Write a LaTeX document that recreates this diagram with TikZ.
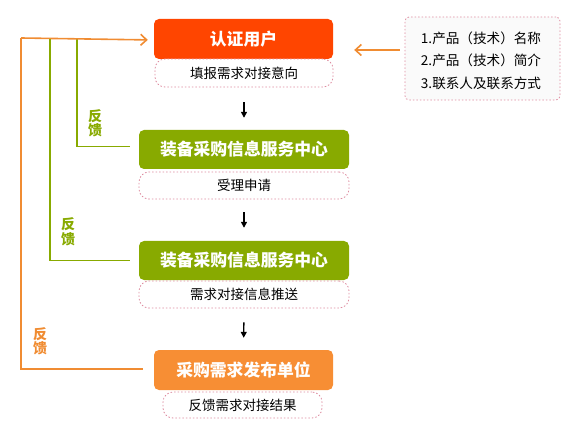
\documentclass[tikz,border=0pt]{standalone}
\usepackage{fontspec}
\setmainfont{Noto Sans CJK SC}
\usepackage{xcolor}
\usetikzlibrary{arrows.meta,calc,positioning}

\definecolor{userred}{RGB}{255,69,0}
\definecolor{centergreen}{RGB}{136,170,0}
\definecolor{puborange}{RGB}{247,142,52}
\definecolor{lineorange}{RGB}{240,140,50}
\definecolor{dashpink}{RGB}{222,140,160}

\begin{document}
\begin{tikzpicture}[x=1pt,y=-1pt,
	mainbox/.style={rounded corners=5pt,text=white,font=\fontsize{16.8}{16.8}\selectfont\bfseries,inner sep=0pt},
	notebox/.style={draw=dashpink,dash pattern=on 1.5pt off 2pt,line width=0.8pt,rounded corners=10pt,fill=white,font=\fontsize{13.5}{13.5}\selectfont,inner sep=0pt},
	flow/.style={line width=1.4pt,-{Triangle[length=6pt,width=6pt]}},
	fbgreen/.style={draw=centergreen,line width=1.6pt},
	fborange/.style={draw=lineorange,line width=1.6pt},
	fbtip/.style={-{Straight Barb[length=6pt,width=11pt,line width=1.6pt]}},
	fblabel/.style={align=center,font=\fontsize{14}{14.5}\selectfont\bfseries,inner sep=0pt}]
	\useasboundingbox (0,0) rectangle (567,438);
	
	% boxes
	\node[mainbox,fill=userred,minimum width=179pt,minimum height=40pt] (user) at (243.5,39) {认证用户};
	\node[notebox,minimum width=178pt,minimum height=28pt] (fill) at (244,73) {填报需求对接意向};
	\node[mainbox,fill=centergreen,minimum width=210pt,minimum height=39pt] (center1) at (244,149.5) {装备采购信息服务中心};
	\node[notebox,minimum width=210pt,minimum height=27pt] (accept) at (244,185.5) {受理申请};
	\node[mainbox,fill=centergreen,minimum width=210pt,minimum height=39pt] (center2) at (244,260.5) {装备采购信息服务中心};
	\node[notebox,minimum width=210pt,minimum height=27pt] (push) at (244,294.5) {需求对接信息推送};
	\node[mainbox,fill=puborange,minimum width=179pt,minimum height=40pt] (pub) at (243.5,370) {采购需求发布单位};
	\node[notebox,minimum width=159pt,minimum height=26pt] (result) at (242.5,405) {反馈需求对接结果};
	
	\node[draw=dashpink,dash pattern=on 1.5pt off 2pt,line width=0.8pt,rounded corners=4pt,fill=black!2,minimum width=155pt,minimum height=83pt] (info) at (482.5,58.5) {};
	\node[align=left,font=\fontsize{13.6}{22.5}\selectfont] (items) at (481,60.5) {1.产品（技术）名称\\2.产品（技术）简介\\3.联系人及联系方式};
	
	% flow
	\draw[flow,shorten <=15pt,shorten >=12pt] (fill) -- (center1);
	\draw[flow,shorten <=13pt,shorten >=13pt] (accept) -- (center2);
	\draw[flow,shorten <=14pt,shorten >=12pt] (push) -- (pub);
	
	% feedback
	\coordinate (top) at (21,38);
	\coordinate (g1) at (77,38);
	\coordinate (g2) at (50,38);
	\draw[fbgreen,shorten <=9pt] ([yshift=3pt]center1.west) -| (g1);
	\draw[fbgreen,shorten <=9pt] (center2.west) -| (g2);
	\draw[fborange,shorten <=11pt] ([yshift=1pt]pub.west) -| (top);
	\draw[fborange,fbtip,shorten >=6pt] (top) -- ([yshift=-1pt]user.west);
	\coordinate (ya) at (0,50);
	\draw[fborange,fbtip,shorten <=5pt,shorten >=21pt] (info.west |- ya) -- (user.east |- ya);
	
	\node[fblabel,text=centergreen] (fb1) at (95,123.5) {反\\馈};
	\node[fblabel,text=centergreen] (fb2) at (68,231.5) {反\\馈};
	\node[fblabel,text=lineorange] (fb3) at (40,341) {反\\馈};
\end{tikzpicture}
\end{document}
